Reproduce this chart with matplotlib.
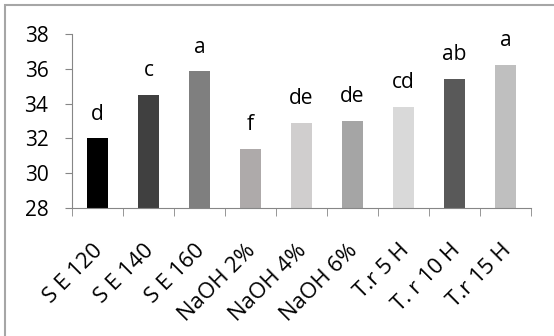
import matplotlib
matplotlib.use("Agg")
import matplotlib.pyplot as plt
from matplotlib.patches import Rectangle
from matplotlib.transforms import ScaledTranslation

categories = ["S E 120", "S E 140", "S E 160", "NaOH 2%", "NaOH 4%",
              "NaOH 6%", "T.r 5 H", "T. r 10 H", "T.r 15 H"]
values = [32.0, 34.5, 35.85, 31.4, 32.9, 33.0, 33.8, 35.4, 36.2]
letters = ["d", "c", "a", "f", "de", "de", "cd", "ab", "a"]
colors = ["#000000", "#404040", "#7f7f7f", "#aeaaaa", "#d0cece",
          "#a5a5a5", "#d9d9d9", "#595959", "#bfbfbf"]
yticks = [28, 30, 32, 34, 36, 38]

plt.rcParams["font.family"] = ["Open Sans", "DejaVu Sans"]

fig = plt.figure(figsize=(5.54, 3.36), dpi=100)
ax = fig.add_axes([72 / 554, 1 - 208 / 336, (531 - 72) / 554, (208 - 34) / 336])

x = list(range(len(categories)))
ax.bar(x, [v - 28 for v in values], bottom=28, width=0.41, color=colors)
for xi, v, lab in zip(x, values, letters):
    ax.annotate(lab, (xi, v), xytext=(0, 10), textcoords="offset points",
                ha="center", va="bottom", fontsize=15)

ax.set_xlim(-0.5, len(categories) - 0.5)
ax.set_ylim(28, 38)
ax.set_yticks(yticks)
ax.tick_params(axis="y", length=5, color="#868686", labelsize=15, pad=12)

ax.set_xticks(x)
ax.set_xticklabels(categories, rotation=45, ha="right", rotation_mode="anchor",
                   fontsize=16)
ax.tick_params(axis="x", which="major", length=0, pad=23)
shift = ScaledTranslation(-5 / 100, 0, fig.dpi_scale_trans)
for t in ax.get_xticklabels():
    t.set_transform(t.get_transform() + shift)
ax.set_xticks([i - 0.5 for i in range(len(categories) + 1)], minor=True)
ax.tick_params(axis="x", which="minor", length=6, color="#868686")

for side in ("top", "right"):
    ax.spines[side].set_visible(False)
for side in ("left", "bottom"):
    ax.spines[side].set_color("#868686")

# chart-area border (right and bottom edges fall outside the image)
fig.patches.append(Rectangle((5 / 554, -0.1), 1.2, 1 - 5 / 336 + 0.1,
                             transform=fig.transFigure, fill=False,
                             edgecolor="#a6a6a6", linewidth=1.5))

fig.savefig("out.png", dpi=100)
